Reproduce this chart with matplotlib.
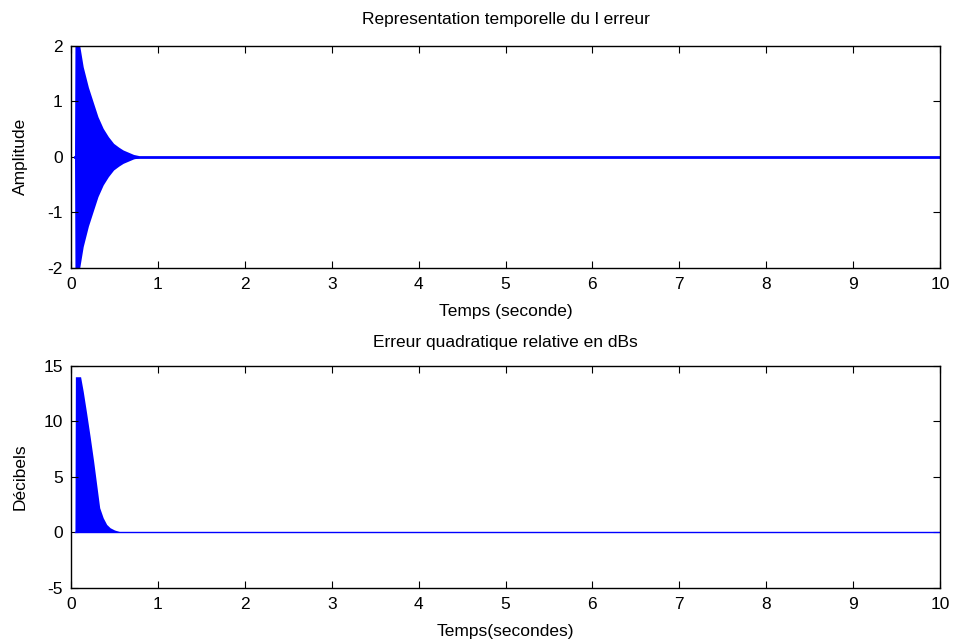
import numpy as np
import matplotlib.pyplot as plt

# envelope of the error signal
t_err = [0.04, 0.045, 0.10, 0.14, 0.20, 0.26, 0.31, 0.37, 0.43, 0.49, 0.55, 0.60, 0.66, 0.72, 0.78]
amp_err = [0.0, 2.0, 2.0, 1.62, 1.25, 0.96, 0.72, 0.51, 0.36, 0.24, 0.17, 0.12, 0.08, 0.04, 0.02]

# relative quadratic error in dB
t_db = [0.045, 0.05, 0.11, 0.14, 0.18, 0.22, 0.26, 0.30, 0.33, 0.37, 0.41, 0.45, 0.50, 0.54, 0.58]
val_db = [0.0, 14.0, 14.0, 12.7, 10.7, 8.6, 6.4, 4.0, 2.2, 1.3, 0.7, 0.4, 0.2, 0.1, 0.0]

t_end = 10

plt.rcParams['font.family'] = ['Liberation Sans', 'DejaVu Sans']
plt.rcParams['font.size'] = 12.5
plt.rcParams['axes.unicode_minus'] = False

fig = plt.figure(figsize=(9.56, 6.4), dpi=100)
ax1 = fig.add_axes([0.0743, 0.5817, 0.909, 0.347])
ax2 = fig.add_axes([0.0743, 0.0817, 0.909, 0.347])

blue = (0, 0, 1)

# top: time representation of the error
amp = np.array(amp_err)
ax1.fill_between(t_err, -amp, amp, color=blue, linewidth=0)
ax1.plot([t_err[0], t_end], [0, 0], color=blue, linewidth=2)
ax1.set_xlim(0, 10)
ax1.set_ylim(-2, 2)
ax1.set_xticks(range(0, 11))
ax1.set_yticks([-2, -1, 0, 1, 2])
ax1.set_title("Representation temporelle du l erreur", fontsize=12.5, pad=15.5)
ax1.set_xlabel("Temps (seconde)", labelpad=8.5)
ax1.set_ylabel("Amplitude")

# bottom: relative quadratic error
ax2.fill_between(t_db, 0, val_db, color=blue, linewidth=0)
ax2.plot([t_db[0], t_end], [0, 0], color=blue, linewidth=1)
ax2.set_xlim(0, 10)
ax2.set_ylim(-5, 15)
ax2.set_xticks(range(0, 11))
ax2.set_yticks([-5, 0, 5, 10, 15])
ax2.set_title("Erreur quadratique relative en dBs", fontsize=12.5, pad=13.5)
ax2.set_xlabel("Temps(secondes)", labelpad=8.5)
ax2.set_ylabel("Décibels")

for ax in (ax1, ax2):
    ax.tick_params(direction='in', top=True, right=True, length=5, labelsize=12.5)
    ax.tick_params(axis='x', pad=7)
    ax.tick_params(axis='y', pad=6)
    ax.yaxis.set_label_coords(-0.05, 0.5)
    for s in ax.spines.values():
        s.set_linewidth(1)

fig.savefig("out.png", dpi=100)
